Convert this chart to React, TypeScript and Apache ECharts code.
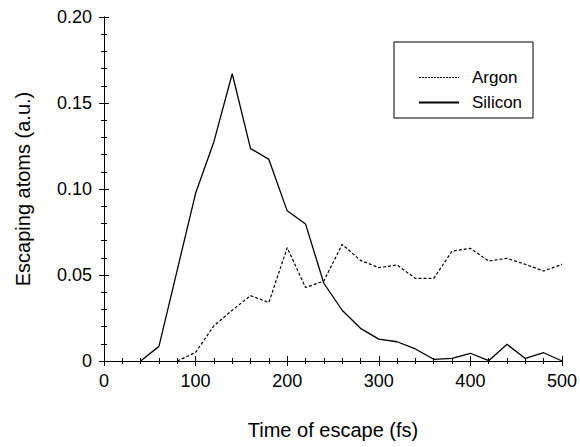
import React, { useEffect, useRef } from "react";
import * as echarts from "echarts";

const siliconTimes = [40, 60, 80, 100, 120, 140, 160, 180, 200, 220, 240, 260, 280, 300, 320, 340, 360, 380, 400, 420, 440, 460, 480, 500];
const siliconValues = [0, 0.0085, 0.053, 0.0975, 0.1275, 0.167, 0.1235, 0.1172, 0.0873, 0.0797, 0.0452, 0.0295, 0.019, 0.0127, 0.0112, 0.007, 0.001, 0.0015, 0.0045, 0.0002, 0.0097, 0.0015, 0.0048, 0];

const argonTimes = [80, 100, 120, 140, 160, 180, 200, 220, 240, 260, 280, 300, 320, 340, 360, 380, 400, 420, 440, 460, 480, 500];
const argonValues = [0, 0.005, 0.0205, 0.0295, 0.038, 0.034, 0.0659, 0.0427, 0.0465, 0.0678, 0.0585, 0.0543, 0.0558, 0.048, 0.048, 0.0639, 0.0655, 0.0581, 0.0597, 0.0562, 0.0523, 0.0562];

const xTicks = [0, 100, 200, 300, 400, 500];
const yTickLabels = ["0", "0.05", "0.10", "0.15", "0.20"];

const FONT = "'Liberation Sans', Arial, Helvetica, sans-serif";

export default function App() {
  const ref = useRef<HTMLDivElement>(null);
  useEffect(() => {
    if (!ref.current) return;
    const chart = echarts.init(ref.current, null, { renderer: "svg" });
    const tickCommon = {
      axisLine: { show: true, lineStyle: { color: "#000", width: 1 } },
      axisTick: { show: true, inside: true, length: 5, lineStyle: { color: "#000" } },
      minorTick: { show: true, splitNumber: 5, length: 3, lineStyle: { color: "#000" } },
      splitLine: { show: false },
    };
    chart.setOption({
      animation: false,
      backgroundColor: "#fff",
      textStyle: { fontFamily: FONT, color: "#000" },
      grid: { left: 104, top: 17, width: 460, height: 344, containLabel: false },
      xAxis: [
        {
          type: "value",
          min: xTicks[0],
          max: xTicks[xTicks.length - 1],
          interval: 100,
          position: "bottom",
          ...tickCommon,
          axisLabel: { color: "#000", fontSize: 18, fontFamily: FONT, margin: 11 },
          name: "Time of escape (fs)",
          nameLocation: "middle",
          nameGap: 59,
          nameTextStyle: { color: "#000", fontSize: 20, fontFamily: FONT },
        },
        {
          type: "value",
          min: 0,
          max: 500,
          interval: 100,
          position: "top",
          ...tickCommon,
          axisLabel: { show: false },
        },
      ],
      yAxis: [
        {
          type: "value",
          min: 0,
          max: 0.2,
          interval: 0.05,
          position: "left",
          ...tickCommon,
          axisLabel: {
            color: "#000",
            fontSize: 18,
            fontFamily: FONT,
            margin: 12,
            formatter: (v: number) => yTickLabels[Math.round(v / 0.05)] ?? "",
          },
          name: "Escaping atoms (a.u.)",
          nameLocation: "middle",
          nameGap: 71,
          nameTextStyle: { color: "#000", fontSize: 20, fontFamily: FONT },
        },
        {
          type: "value",
          min: 0,
          max: 0.2,
          interval: 0.05,
          position: "right",
          ...tickCommon,
          axisLabel: { show: false },
        },
      ],
      legend: {
        orient: "vertical",
        left: 413,
        top: 64,
        itemWidth: 40,
        itemHeight: 14,
        itemGap: 8,
        itemStyle: { color: "transparent", borderColor: "transparent", borderWidth: 0 },
        textStyle: { color: "#000", fontSize: 17, fontFamily: FONT, padding: [0, 0, 0, 8] },
        data: [
          { name: "Argon", lineStyle: { type: [2, 1], width: 1 } },
          { name: "Silicon" },
        ],
      },
      graphic: [
        {
          type: "rect",
          shape: { x: 394, y: 42, width: 139, height: 76 },
          style: { fill: "none", stroke: "#000", lineWidth: 1 },
          z: 10,
        },
      ],
      series: [
        {
          name: "Argon",
          type: "line",
          data: argonTimes.map((t, i) => [t, argonValues[i]]),
          showSymbol: false,
          symbol: "none",
          lineStyle: { color: "#000", width: 1.2, type: [3, 2] },
          itemStyle: { color: "#000" },
        },
        {
          name: "Silicon",
          type: "line",
          data: siliconTimes.map((t, i) => [t, siliconValues[i]]),
          showSymbol: false,
          symbol: "none",
          lineStyle: { color: "#000", width: 1.3, type: "solid" },
          itemStyle: { color: "#000" },
        },
      ],
    });
    return () => chart.dispose();
  }, []);
  return (
    <div
      ref={ref}
      style={{ position: "absolute", left: 0, top: 0, width: 580, height: 447 }}
    />
  );
}
